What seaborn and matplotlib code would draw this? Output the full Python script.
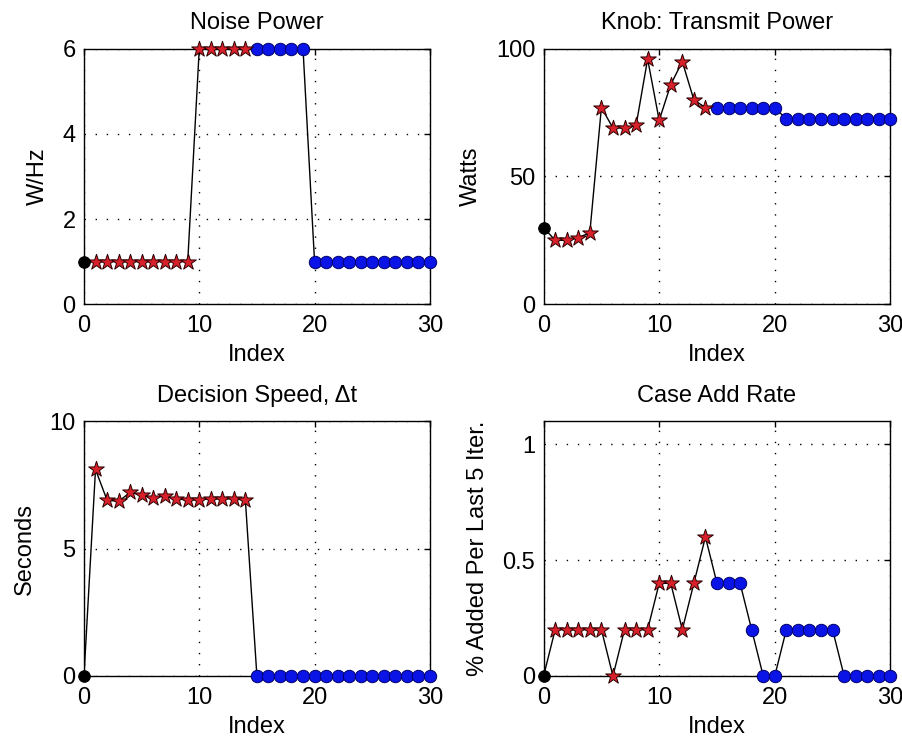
import matplotlib
matplotlib.use("Agg")
import matplotlib.pyplot as plt
import seaborn as sns
import pandas as pd

# ---- data ----
index = [0, 1, 2, 3, 4, 5, 6, 7, 8, 9, 10, 11, 12, 13, 14, 15, 16, 17, 18, 19,
         20, 21, 22, 23, 24, 25, 26, 27, 28, 29, 30]
phase = (["start"]
         + ["case", "case", "case", "case", "case", "case", "case",
            "case", "case", "case", "case", "case", "case", "case"]
         + ["known", "known", "known", "known", "known", "known", "known", "known",
            "known", "known", "known", "known", "known", "known", "known", "known"])

noise_power = [1, 1, 1, 1, 1, 1, 1, 1, 1, 1, 6, 6, 6, 6, 6, 6, 6, 6, 6, 6,
               1, 1, 1, 1, 1, 1, 1, 1, 1, 1, 1]
transmit_power = [30, 25, 25, 26, 28, 77, 69, 69, 70, 96, 72, 86, 95, 80, 77,
                  77, 77, 77, 77, 77, 77, 72.5, 72.5, 72.5, 72.5, 72.5, 72.5,
                  72.5, 72.5, 72.5, 72.5]
decision_speed = [0, 8.1, 6.9, 6.85, 7.2, 7.1, 7.0, 7.05, 6.95, 6.9, 6.92, 6.95,
                  6.95, 6.95, 6.9, 0, 0, 0, 0, 0, 0, 0, 0, 0, 0, 0, 0, 0, 0, 0, 0]
case_add_rate = [0, 0.2, 0.2, 0.2, 0.2, 0.2, 0, 0.2, 0.2, 0.2, 0.4, 0.4, 0.2,
                 0.4, 0.6, 0.4, 0.4, 0.4, 0.2, 0, 0, 0.2, 0.2, 0.2, 0.2, 0.2,
                 0, 0, 0, 0, 0]

titles = ["Noise Power", "Knob: Transmit Power", "Decision Speed, \u0394t", "Case Add Rate"]
ylabels = ["W/Hz", "Watts", "Seconds", "% Added Per Last 5 Iter."]
xticks = [0, 10, 20, 30]
yticks_list = [[0, 2, 4, 6], [0, 50, 100], [0, 5, 10], [0, 0.5, 1]]
ytick_labels = [["0", "2", "4", "6"], ["0", "50", "100"], ["0", "5", "10"], ["0", "0.5", "1"]]
ylims = [(0, 6), (0, 100), (0, 10), (0, 1.1)]
series = [noise_power, transmit_power, decision_speed, case_add_rate]

# ---- style ----
sns.set_theme(style="white")
plt.rcParams["font.family"] = ["Liberation Sans", "DejaVu Sans"]
plt.rcParams["font.size"] = 17

fig = plt.figure(figsize=(9.03, 7.40), dpi=100)
positions = [
    [0.093, 0.589, 0.383, 0.345],
    [0.602, 0.589, 0.384, 0.345],
    [0.093, 0.0865, 0.383, 0.3445],
    [0.602, 0.0865, 0.384, 0.3445],
]

for k in range(4):
    ax = fig.add_axes(positions[k])
    df = pd.DataFrame({"Index": index, "val": series[k], "phase": phase})
    sns.lineplot(data=df, x="Index", y="val", color="black", lw=1.0,
                 estimator=None, ax=ax, zorder=2)
    st = df[df.phase == "start"]
    cs = df[df.phase == "case"]
    kn = df[df.phase == "known"]
    sns.scatterplot(data=kn, x="Index", y="val", marker="o", s=80,
                    color="#0a14e6", edgecolor="#00006a", linewidth=0.7,
                    ax=ax, zorder=3, clip_on=False)
    sns.scatterplot(data=cs, x="Index", y="val", marker="*", s=140,
                    color="#d8202a", edgecolor="#2a0000", linewidth=0.7,
                    ax=ax, zorder=3, clip_on=False)
    sns.scatterplot(data=st, x="Index", y="val", marker="o", s=70,
                    color="black", edgecolor="black", linewidth=0.7,
                    ax=ax, zorder=4, clip_on=False)

    ax.set_xlim(0, 30)
    ax.set_ylim(*ylims[k])
    ax.set_xticks(xticks)
    ax.set_xticklabels([str(t) for t in xticks])
    ax.set_yticks(yticks_list[k])
    ax.set_yticklabels(ytick_labels[k])
    ax.tick_params(direction="in", length=4, width=1, color="black",
                   top=True, right=True, labelsize=17, labelcolor="black", pad=6)
    ax.tick_params(axis="x", pad=8)
    ax.grid(True, linestyle=(0, (1, 7)), color="black", linewidth=1.0)
    ax.set_axisbelow(True)
    for sp in ax.spines.values():
        sp.set_color("black")
        sp.set_linewidth(1.0)
        sp.set_visible(True)
    ax.set_title(titles[k], fontsize=17, pad=14, color="black")
    ax.set_xlabel("Index", fontsize=17, labelpad=5, color="black")
    ax.set_ylabel(ylabels[k], fontsize=17, labelpad=10, color="black")
    ax.set_facecolor("white")

fig.savefig("out.png", dpi=100, facecolor="white")
